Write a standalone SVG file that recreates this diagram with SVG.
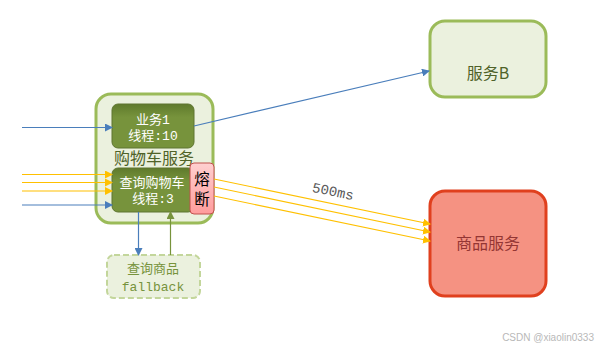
<svg xmlns="http://www.w3.org/2000/svg" width="607" height="357" viewBox="0 0 607 357">
<style>
.t{font-family:"Liberation Mono","Noto Sans CJK SC",monospace;}
.s{font-family:"Noto Sans CJK SC","Liberation Sans",sans-serif;}
.blue{stroke:#4a7ebb;stroke-width:1.2;fill:none;}
.yel{stroke:#ffc000;stroke-width:1.2;fill:none;}
.inner{fill:url(#gInner);stroke:#5f7530;stroke-width:1;}
</style>
<defs>
<linearGradient id="gInner" x1="0" y1="0" x2="0" y2="1">
<stop offset="0" stop-color="#5f7a2c"/><stop offset="0.3" stop-color="#77933c"/><stop offset="1" stop-color="#77933c"/>
</linearGradient>
<linearGradient id="gPink" x1="0" y1="0" x2="0" y2="1">
<stop offset="0" stop-color="#ffd0d0"/><stop offset="1" stop-color="#ff9c9c"/>
</linearGradient>
<marker id="aB" markerWidth="8" markerHeight="8" refX="7" refY="4" orient="auto" markerUnits="userSpaceOnUse"><path d="M0,0 L8,4 L0,8 z" fill="#4a7ebb"/></marker>
<marker id="aY" markerWidth="8" markerHeight="8" refX="7" refY="4" orient="auto" markerUnits="userSpaceOnUse"><path d="M0,0 L8,4 L0,8 z" fill="#ffc000"/></marker>
<marker id="aG" markerWidth="8" markerHeight="8" refX="7" refY="4" orient="auto" markerUnits="userSpaceOnUse"><path d="M0,0 L8,4 L0,8 z" fill="#77933c"/></marker>
</defs>
<rect width="607" height="357" fill="#ffffff"/>

<g id="cart">
<rect x="96" y="94" width="117" height="129" rx="15" fill="#ebf1de" stroke="#9bbb59" stroke-width="3"/>
<text x="154" y="164" class="s" font-size="16" fill="#4f6228" text-anchor="middle">购物车服务</text>
</g>
<g id="biz1">
<rect x="112" y="104" width="82" height="44" rx="6" class="inner"/>
<text x="153" y="123.5" class="t" font-size="13" fill="#ffffff" text-anchor="middle">业务1</text>
<text x="153" y="139.5" class="t" font-size="13" fill="#ffffff" text-anchor="middle">线程:10</text>
</g>
<g id="query">
<rect x="112" y="168" width="82" height="44" rx="6" class="inner"/>
<text x="152" y="187" class="t" font-size="13" fill="#ffffff" text-anchor="middle">查询购物车</text>
<text x="153" y="203" class="t" font-size="13" fill="#ffffff" text-anchor="middle">线程:3</text>
</g>
<g id="breaker">
<rect x="190" y="163" width="24" height="51" rx="4" fill="url(#gPink)" stroke="#c0504d" stroke-width="1"/>
<text x="202" y="185" font-family="Liberation Sans, Noto Sans CJK SC, sans-serif" font-size="15.5" fill="#000000" text-anchor="middle">熔</text>
<text x="202" y="205" font-family="Liberation Sans, Noto Sans CJK SC, sans-serif" font-size="15.5" fill="#000000" text-anchor="middle">断</text>
</g>
<g id="serviceB">
<rect x="430" y="21" width="116" height="76" rx="15" fill="#ebf1de" stroke="#9bbb59" stroke-width="3"/>
<text x="488" y="79" class="s" font-size="16" fill="#4f6228" text-anchor="middle">服务B</text>
</g>
<g id="product">
<rect x="430" y="191" width="116" height="105" rx="15" fill="#f59282" stroke="#e0401e" stroke-width="3"/>
<text x="488" y="249" class="s" font-size="16" fill="#943634" text-anchor="middle">商品服务</text>
</g>
<g id="fallback">
<rect x="107" y="255" width="93" height="43" rx="7" fill="#ebf1de" stroke="#c3d69b" stroke-width="2" stroke-dasharray="6,3"/>
<text x="153" y="273" class="s" font-size="13" fill="#77933c" text-anchor="middle">查询商品</text>
<text x="153" y="291" class="t" font-size="13" fill="#77933c" text-anchor="middle">fallback</text>
</g>

<g id="connectors">
<line x1="22" y1="127.5" x2="112" y2="127.5" class="blue" marker-end="url(#aB)"/>
<line x1="194" y1="126" x2="429" y2="71" class="blue" marker-end="url(#aB)"/>
<line x1="22" y1="174.5" x2="112" y2="174.5" class="yel" marker-end="url(#aY)"/>
<line x1="22" y1="182.5" x2="112" y2="182.5" class="yel" marker-end="url(#aY)"/>
<line x1="22" y1="191" x2="112" y2="191" class="yel" marker-end="url(#aY)"/>
<line x1="22" y1="205" x2="112" y2="205" class="blue" marker-end="url(#aB)"/>
<line x1="214" y1="179" x2="430" y2="224" class="yel" marker-end="url(#aY)"/>
<line x1="214" y1="187" x2="430" y2="232" class="yel" marker-end="url(#aY)"/>
<line x1="214" y1="196" x2="430" y2="241" class="yel" marker-end="url(#aY)"/>
<line x1="138.5" y1="212" x2="138.5" y2="255" class="blue" marker-end="url(#aB)"/>
<line x1="170.5" y1="255" x2="170.5" y2="212" stroke="#77933c" stroke-width="1.2" marker-end="url(#aG)"/>
<text x="333" y="196" class="t" font-size="14" fill="#595959" text-anchor="middle" transform="rotate(11.7 333 192)">500ms</text>
</g>
<text x="594" y="341" font-family="Liberation Sans, sans-serif" font-size="10" fill="#b8b8b8" text-anchor="end">CSDN @xiaolin0333</text>
</svg>
